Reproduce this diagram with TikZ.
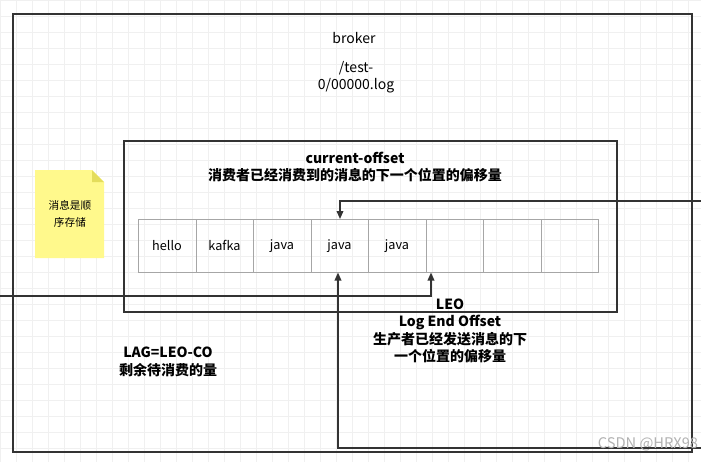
\documentclass[tikz,border=0pt]{standalone}
\usepackage{fontspec}
\setmainfont{Noto Sans CJK SC}
\usetikzlibrary{arrows.meta}
\begin{document}
\begin{tikzpicture}[x=0.75pt,y=-0.75pt,
  cell/.style={draw=gray!70,minimum width=57.5*0.75pt,minimum height=53*0.75pt,inner sep=0,font=\fontsize{9.5}{11}\selectfont,anchor=north west},
  box/.style={draw=black!80,line width=1.2pt},
  conn/.style={draw=black!80,line width=1.1pt,-{Triangle[length=6pt,width=5pt]}},
  txt/.style={font=\fontsize{10.5}{13}\selectfont,align=center},
  btxt/.style={font=\fontsize{10.5}{13}\selectfont\bfseries,align=center}]
\useasboundingbox (0,0) rectangle (701,462);
\fill[white] (0,0) rectangle (701,462);
\draw[black!6] (0,0) grid[step=16*0.75pt] (701,462);
\draw[box] (13,14) rectangle (692,452);
\draw[box] (124,141) rectangle (617,312);
\fill[yellow!45] (35,170) -- (92,170) -- (104,182) -- (104,258) -- (35,258) -- cycle;
\fill[yellow!60!olive!60] (92,170) -- (104,182) -- (92,182) -- cycle;
\node[font=\fontsize{8}{13}\selectfont,align=center] (note) at (70,214) {消息是顺\\序存储};
\node[txt] (broker) at (354,38) {broker};
\node[txt] (path) at (356,77) {/test-\\0/00000.log};
\node[btxt] (co) at (355,167) {current-offset\\消费者已经消费到的消息的下一个位置的偏移量};
\foreach \t [count=\i] in {hello,kafka,java,java,java,,,} {
  \node[cell] (c\i) at ({138+(\i-1)*57.5},219) {\t};
}
\coordinate (r1) at (701,201);
\coordinate (l1) at (0,296);
\coordinate (b1) at (701,448);
\draw[conn] (r1) -- (340,201) -- (c4.north -| 340,0);
\draw[conn] (l1) -- (431,296) -- (c6.south west -| 431,0);
\draw[conn] (b1) -- (338,448) -- (c4.south -| 338,0);
\node[btxt] (leo) at (450,331) {LEO\\Log End Offset\\生产者已经发送消息的下\\一个位置的偏移量};
\node[btxt] (lag) at (168,362) {LAG=LEO-CO\\剩余待消费的量};
\node[font=\fontsize{11}{13}\selectfont,text=gray!60] (wm) at (648,444) {CSDN @HRX98};
\end{tikzpicture}
\end{document}
